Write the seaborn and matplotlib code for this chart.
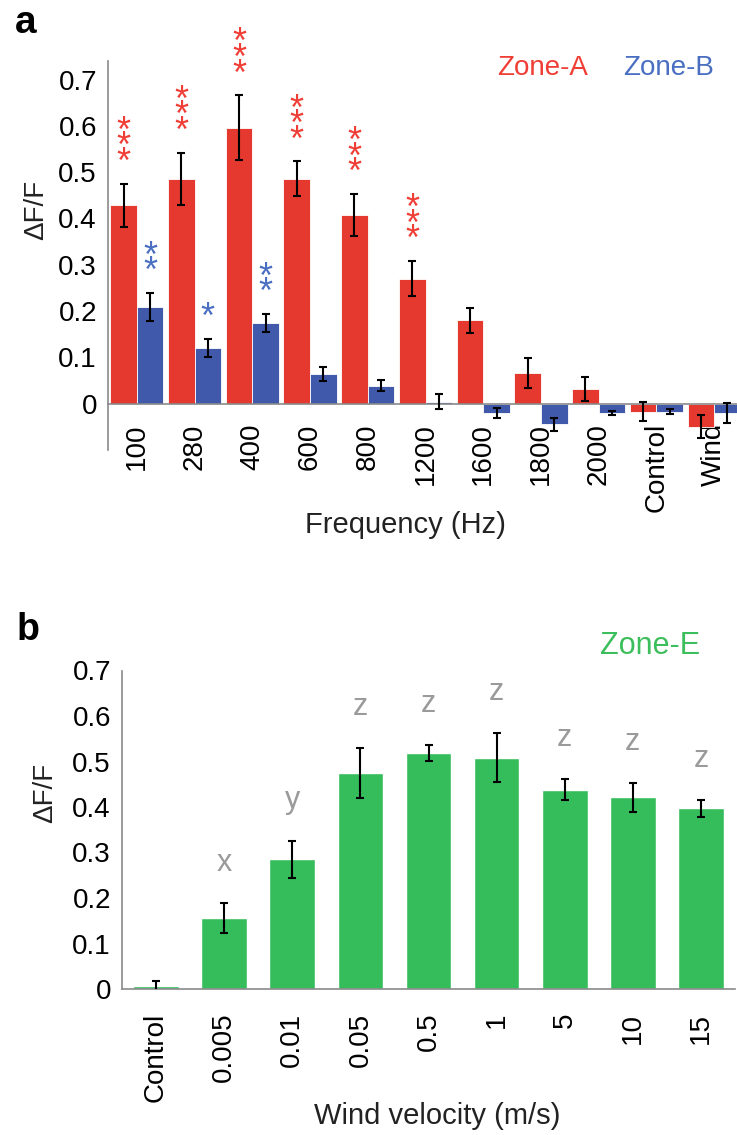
import numpy as np
import pandas as pd
import seaborn as sns
import matplotlib.pyplot as plt

#%% data
frequencies = ['100', '280', '400', '600', '800', '1200', '1600', '1800', '2000', 'Control', 'Wind']
zone_a = [0.428, 0.486, 0.596, 0.486, 0.408, 0.270, 0.180, 0.066, 0.032, -0.017, -0.050]
zone_a_err = [0.047, 0.056, 0.070, 0.037, 0.045, 0.038, 0.027, 0.033, 0.026, 0.020, 0.025]
zone_b = [0.209, 0.120, 0.174, 0.065, 0.039, 0.004, -0.020, -0.044, -0.020, -0.017, -0.020]
zone_b_err = [0.030, 0.020, 0.020, 0.015, 0.012, 0.016, 0.011, 0.014, 0.005, 0.006, 0.021]
zone_a_stars = ['***', '***', '***', '***', '***', '***', '', '', '', '', '']
zone_b_stars = ['**', '*', '**', '', '', '', '', '', '', '', '']

velocities = ['Control', '0.005', '0.01', '0.05', '0.5', '1', '5', '10', '15']
zone_e = [0.006, 0.156, 0.285, 0.474, 0.519, 0.508, 0.438, 0.421, 0.397]
zone_e_err = [0.012, 0.032, 0.040, 0.055, 0.018, 0.054, 0.023, 0.032, 0.018]
zone_e_letters = ['', 'x', 'y', 'z', 'z', 'z', 'z', 'z', 'z']

y_ticks = [0, 0.1, 0.2, 0.3, 0.4, 0.5, 0.6, 0.7]
y_ticklabels = ['0', '0.1', '0.2', '0.3', '0.4', '0.5', '0.6', '0.7']

#%% style
sns.set_style("white")
plt.rcParams['font.family'] = ['Liberation Sans', 'DejaVu Sans']
plt.rcParams.update({'text.color': 'black', 'axes.labelcolor': '#222222'})
red, blue, green = '#E5392F', '#4059AB', '#35BC5B'
red_txt, blue_txt, green_txt = '#EF3E36', '#4A6EC2', '#3DBE5C'
spine_grey = '#8A8A8A'
W, H = 737, 1135

fig = plt.figure(figsize=(W / 100, H / 100), dpi=100)


def style_axis(ax, n):
    for s in ['top', 'right']:
        ax.spines[s].set_visible(False)
    for s in ['left', 'bottom']:
        ax.spines[s].set_color(spine_grey)
        ax.spines[s].set_linewidth(1.2)
    ax.spines['bottom'].set_position(('data', 0))
    ax.set_xticks(np.arange(0.5, n, 1), minor=True)
    ax.tick_params(axis='x', which='minor', length=4, width=1, color=spine_grey, direction='out')
    ax.tick_params(axis='y', length=4, width=1, color=spine_grey, labelcolor='black',
                   labelsize=20, pad=4)
    ax.set_yticks(y_ticks)
    ax.set_yticklabels(y_ticklabels)
    ax.set_xlim(-0.5, n - 0.5)


def add_errorbars(ax, values_list, errs_list):
    for cont, vals, errs in zip(ax.containers, values_list, errs_list):
        xs = [b.get_x() + b.get_width() / 2 for b in cont]
        ax.errorbar(xs, vals, yerr=errs, fmt='none', ecolor='black',
                    elinewidth=1.5, capsize=3.2, capthick=1.5, zorder=5)
    return


#%% panel a
ax1 = fig.add_axes([108 / W, 1 - 450 / H, 635 / W, 389 / H])
df_a = pd.DataFrame({'Frequency': frequencies * 2,
                     'dff': zone_a + zone_b,
                     'Zone': ['Zone-A'] * len(frequencies) + ['Zone-B'] * len(frequencies)})
sns.barplot(data=df_a, x='Frequency', y='dff', hue='Zone', order=frequencies,
            palette=[red, blue], width=0.92, saturation=1, errorbar=None,
            edgecolor='white', linewidth=0.6, legend=False, ax=ax1)
add_errorbars(ax1, [zone_a, zone_b], [zone_a_err, zone_b_err])
style_axis(ax1, len(frequencies))
ax1.set_ylim(-0.1, 0.74)
ax1.tick_params(axis='x', which='major', length=0, labelsize=20, labelcolor='black',
                rotation=90, pad=14)
ax1.set_ylabel('ΔF/F', fontsize=20)
ax1.yaxis.set_label_coords(-0.092, 0.618)
ax1.set_xlabel('Frequency (Hz)', fontsize=21)
ax1.xaxis.set_label_coords(0.469, -0.158)

# significance stars, stacked one above the other over the error bars
fs_star = 26
for cont, vals, errs, stars, col in zip(ax1.containers, [zone_a, zone_b], [zone_a_err, zone_b_err],
                                        [zone_a_stars, zone_b_stars], [red_txt, blue_txt]):
    for b, v, e, s in zip(cont, vals, errs, stars):
        if not s:
            continue
        x = b.get_x() + b.get_width() / 2
        ax1.annotate('\n'.join(s), (x, v + e), xytext=(0, 2), textcoords='offset points',
                     ha='center', va='bottom', multialignment='center', linespacing=0.28,
                     fontsize=fs_star, color=col)

fig.text(497 / W, 1 - 75 / H, 'Zone-A', color=red_txt, fontsize=20, va='baseline')
fig.text(623 / W, 1 - 75 / H, 'Zone-B', color=blue_txt, fontsize=20, va='baseline')
fig.text(15 / W, 1 - 33 / H, 'a', fontsize=28, fontweight='bold', va='baseline')

#%% panel b
ax2 = fig.add_axes([122 / W, 1 - 989 / H, 613 / W, 318.5 / H])
df_b = pd.DataFrame({'Velocity': velocities, 'dff': zone_e})
sns.barplot(data=df_b, x='Velocity', y='dff', order=velocities, color=green,
            width=0.67, saturation=1, errorbar=None, ax=ax2)
add_errorbars(ax2, [zone_e], [zone_e_err])
style_axis(ax2, len(velocities))
ax2.set_ylim(0, 0.7)
ax2.tick_params(axis='x', which='major', length=0, labelsize=20, labelcolor='black',
                rotation=90, pad=17)
ax2.set_ylabel('ΔF/F', fontsize=20)
ax2.yaxis.set_label_coords(-0.104, 0.616)
ax2.set_xlabel('Wind velocity (m/s)', fontsize=21)
ax2.xaxis.set_label_coords(0.514, -0.355)

for b, v, e, lt in zip(ax2.containers[0], zone_e, zone_e_err, zone_e_letters):
    ax2.text(b.get_x() + b.get_width() / 2, v + e + 0.09, lt, ha='center', va='center',
             fontsize=22, color='#9A9A9A')

fig.text(600 / W, 1 - 654 / H, 'Zone-E', color=green_txt, fontsize=22, va='baseline')
fig.text(17 / W, 1 - 640 / H, 'b', fontsize=27, fontweight='bold', va='baseline')

plt.savefig('out.png', dpi=100)
